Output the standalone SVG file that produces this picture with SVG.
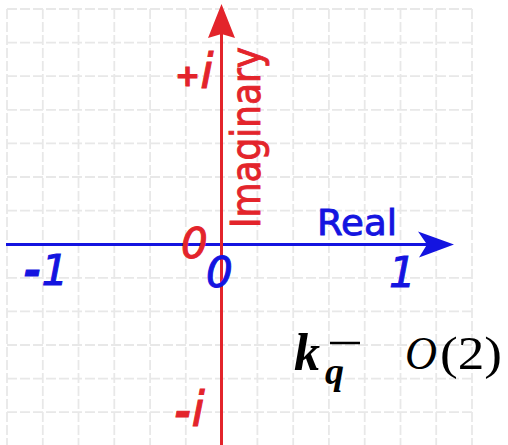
<svg xmlns="http://www.w3.org/2000/svg" width="508" height="445" viewBox="0 0 508 445">
<style>
.grid line{stroke:#e8e8e8;stroke-width:1.8;stroke-dasharray:10 3;fill:none}
.red{fill:#e3242b}
.blue{fill:#1414e0}
.hand{font-family:"DejaVu Sans",sans-serif;stroke-width:0.9}
.hand.red{stroke:#e3242b}
.hand.blue{stroke:#1414e0}
.num{font-family:"DejaVu Sans",sans-serif;font-style:oblique;stroke-width:1}
.num.red{stroke:#e3242b}
.num.blue{stroke:#1414e0}
.math{font-family:"Liberation Serif","DejaVu Serif",serif;fill:#000}
</style>
<rect width="508" height="445" fill="#fff"/>
<g id="grid" class="grid">
<line x1="7" y1="9" x2="7" y2="445"/>
<line x1="42.8" y1="9" x2="42.8" y2="445"/>
<line x1="78.5" y1="9" x2="78.5" y2="445"/>
<line x1="114.3" y1="9" x2="114.3" y2="445"/>
<line x1="150.1" y1="9" x2="150.1" y2="445"/>
<line x1="185.8" y1="9" x2="185.8" y2="445"/>
<line x1="257.4" y1="9" x2="257.4" y2="445"/>
<line x1="293.2" y1="9" x2="293.2" y2="445"/>
<line x1="328.9" y1="9" x2="328.9" y2="445"/>
<line x1="364.7" y1="9" x2="364.7" y2="445"/>
<line x1="400.5" y1="9" x2="400.5" y2="445"/>
<line x1="436.2" y1="9" x2="436.2" y2="445"/>
<line x1="472" y1="9" x2="472" y2="445"/>
<line x1="7" y1="9" x2="472" y2="9"/>
<line x1="7" y1="42.6" x2="472" y2="42.6"/>
<line x1="7" y1="76.2" x2="472" y2="76.2"/>
<line x1="7" y1="109.8" x2="472" y2="109.8"/>
<line x1="7" y1="143.4" x2="472" y2="143.4"/>
<line x1="7" y1="177" x2="472" y2="177"/>
<line x1="7" y1="210.6" x2="472" y2="210.6"/>
<line x1="7" y1="277.8" x2="472" y2="277.8"/>
<line x1="7" y1="311.4" x2="472" y2="311.4"/>
<line x1="7" y1="345" x2="472" y2="345"/>
<line x1="7" y1="378.6" x2="472" y2="378.6"/>
<line x1="7" y1="412.2" x2="472" y2="412.2"/>
</g>
<g id="connectors">
<g id="real-axis">
<line x1="6" y1="244.5" x2="428" y2="244.5" stroke="#1414e0" stroke-width="3"/>
<polygon class="blue" points="454,244.5 418,231.5 427,244.5 419,257.5"/>
</g>
<g id="imaginary-axis">
<line x1="221.5" y1="30" x2="221.5" y2="445" stroke="#e3242b" stroke-width="3"/>
<polygon class="red" points="221.5,4 235,38 221.5,34 208,38"/>
</g>
</g>
<g id="label-imaginary"><text class="hand red" font-size="40" transform="translate(260,228) rotate(-90)" textLength="181" lengthAdjust="spacingAndGlyphs">Imaginary</text></g>
<g id="label-real"><text class="hand blue" font-size="35" x="317" y="235" textLength="80" lengthAdjust="spacingAndGlyphs">Real</text></g>
<g id="label-plus-i"><text class="num red" x="175" y="88"><tspan font-size="30" font-weight="bold" dy="-2">+</tspan><tspan font-size="48" dy="2">i</tspan></text></g>
<g id="label-minus-i"><text class="num red" x="175" y="426"><tspan font-size="40" font-weight="bold">-</tspan><tspan font-size="48">i</tspan></text></g>
<g id="label-red-zero"><text class="num red" font-size="42" x="181" y="258">0</text></g>
<g id="label-blue-zero"><text class="num blue" font-size="42" x="206" y="287">0</text></g>
<g id="label-minus-one"><text class="num blue" font-size="42" x="24" y="285"><tspan font-weight="bold">-</tspan>1</text></g>
<g id="label-one"><text class="num blue" font-size="42" x="389" y="287">1</text></g>
<g id="math">
<text class="math" font-size="52" font-weight="bold" font-style="italic" x="294" y="370">k</text>
<text class="math" font-size="38" font-weight="bold" font-style="italic" x="325" y="384">q</text>
<line x1="330" y1="343" x2="360" y2="343" stroke="#000" stroke-width="2.5"/>
<text class="math" font-size="46" font-style="italic" x="405" y="369" textLength="32" lengthAdjust="spacingAndGlyphs">O</text>
<text class="math" font-size="46" x="440" y="369" textLength="62" lengthAdjust="spacingAndGlyphs">(2)</text>
</g>
</svg>
